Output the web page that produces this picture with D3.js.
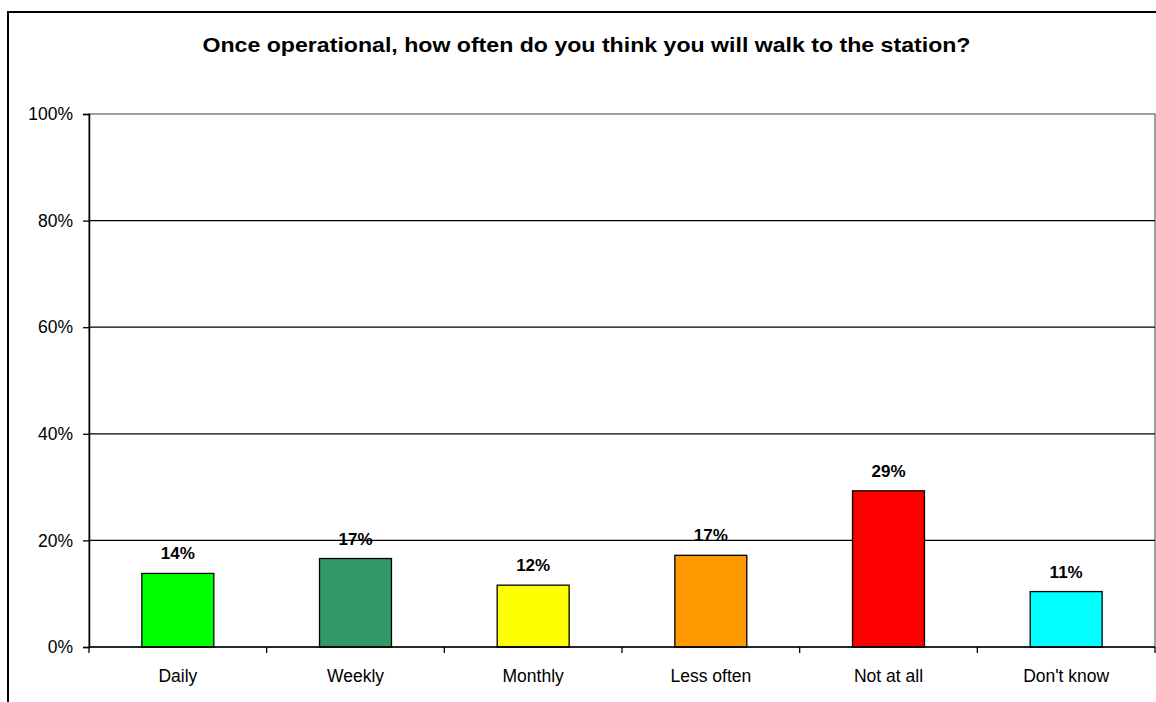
<!DOCTYPE html>
<html>
<head>
<meta charset="utf-8">
<script src="https://cdn.jsdelivr.net/npm/d3@7"></script>
<style>
html,body{margin:0;padding:0;background:#fff;}
svg{display:block;font-family:Arial,"Liberation Sans",sans-serif;}
</style>
</head>
<body>
<svg id="chart" width="1156" height="702"></svg>
<script>
const titleText = "Once operational, how often do you think you will walk to the station?";
const categories = ["Daily", "Weekly", "Monthly", "Less often", "Not at all", "Don't know"];
const values = [13.8, 16.6, 11.6, 17.2, 29.3, 10.4];
const labels = ["14%", "17%", "12%", "17%", "29%", "11%"];
const colors = ["#00FF00", "#339966", "#FFFF00", "#FF9900", "#FF0000", "#00FFFF"];
const yTicks = [0, 20, 40, 60, 80, 100];

const svg = d3.select("#chart");
const plot = {left: 89, top: 114, right: 1155, bottom: 647};

// outer frame
svg.append("rect").attr("x", 8).attr("y", 12).attr("width", 1160).attr("height", 720)
  .attr("fill", "#fff").attr("stroke", "#000").attr("stroke-width", 2);

svg.append("text").attr("x", 586.5).attr("y", 52).attr("text-anchor", "middle")
  .attr("font-weight", "bold").attr("font-size", 20.5).attr("fill", "#000")
  .attr("textLength", 768).attr("lengthAdjust", "spacingAndGlyphs").text(titleText);

const x = d3.scaleBand().domain(categories).range([plot.left, plot.right]).paddingInner(0.595).paddingOuter(0.2975);
const xb = d3.scaleBand().domain(categories).range([plot.left, plot.right]);
const y = d3.scaleLinear().domain([0, 100]).range([plot.bottom, plot.top]);

// plot area border (gray)
svg.append("rect").attr("x", plot.left).attr("y", plot.top)
  .attr("width", plot.right - plot.left).attr("height", plot.bottom - plot.top)
  .attr("fill", "#fff").attr("stroke", "#808080").attr("stroke-width", 1.5);

// bars
svg.append("g").selectAll("rect").data(categories).join("rect")
  .attr("x", d => x(d)).attr("width", x.bandwidth())
  .attr("y", (d, i) => y(values[i])).attr("height", (d, i) => y(0) - y(values[i]))
  .attr("fill", (d, i) => colors[i]).attr("stroke", "#000").attr("stroke-width", 1.3);

// value labels
svg.append("g").selectAll("text").data(categories).join("text")
  .attr("x", d => x(d) + x.bandwidth() / 2).attr("y", (d, i) => y(values[i]) - 14)
  .attr("text-anchor", "middle").attr("font-weight", "bold").attr("font-size", 17)
  .attr("fill", "#000").text((d, i) => labels[i]);

// gridlines (drawn over labels, not over bars)
const grid = svg.append("g");
yTicks.filter(t => t > 0 && t < 100).forEach(t => {
  let segs = [];
  let start = plot.left;
  categories.forEach((c, i) => {
    if (values[i] > t) {
      segs.push([start, x(c)]);
      start = x(c) + x.bandwidth();
    }
  });
  segs.push([start, plot.right]);
  segs.forEach(s => grid.append("line").attr("x1", s[0]).attr("x2", s[1])
    .attr("y1", y(t)).attr("y2", y(t)).attr("stroke", "#000").attr("stroke-width", 1.3));
});

// y axis
const yAxis = d3.axisLeft(y).tickValues(yTicks).tickFormat(d => d + "%").tickSize(6).tickPadding(10);
const gy = svg.append("g").attr("transform", `translate(${plot.left},0)`).call(yAxis);
gy.select(".domain").attr("stroke", "#000").attr("stroke-width", 1.5);
gy.selectAll(".tick line").attr("stroke", "#000").attr("stroke-width", 1.3);
gy.selectAll(".tick text").attr("font-size", 17.5).attr("fill", "#000")
  .attr("font-family", "Arial, 'Liberation Sans', sans-serif");

// x axis
const gx = svg.append("g").attr("transform", `translate(0,${plot.bottom})`);
gx.append("line").attr("x1", plot.left).attr("x2", plot.right).attr("y1", 0).attr("y2", 0)
  .attr("stroke", "#000").attr("stroke-width", 1.5);
const bounds = categories.map(c => xb(c)).concat([plot.right]);
gx.selectAll("line.tk").data(bounds).join("line").attr("class", "tk")
  .attr("x1", d => d).attr("x2", d => d).attr("y1", 0).attr("y2", 6)
  .attr("stroke", "#000").attr("stroke-width", 1.3);
gx.selectAll("text").data(categories).join("text")
  .attr("x", d => xb(d) + xb.bandwidth() / 2).attr("y", 35)
  .attr("text-anchor", "middle").attr("font-size", 17.5).attr("fill", "#000").text(d => d);
</script>
</body>
</html>
